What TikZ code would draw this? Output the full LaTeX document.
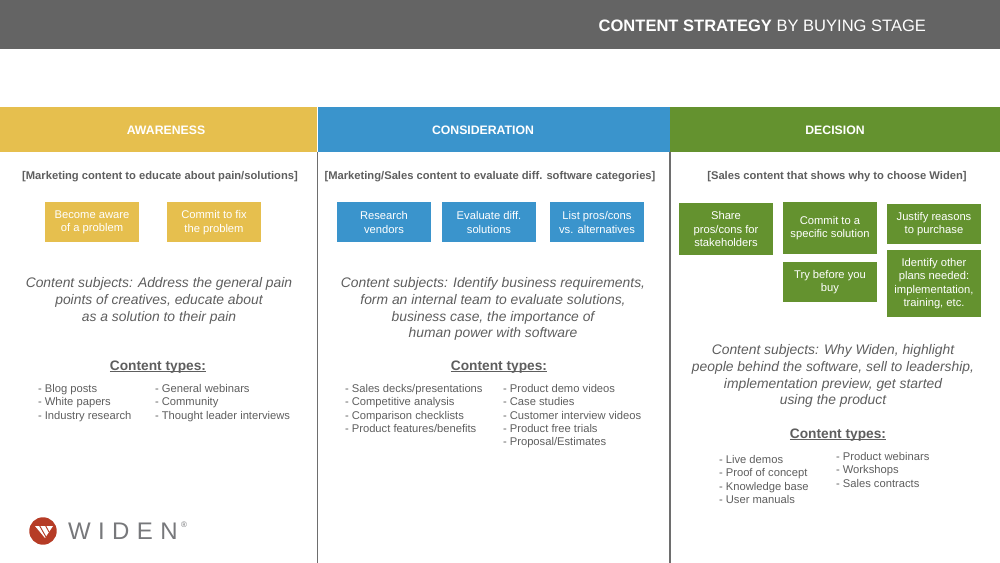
\documentclass[tikz,border=0pt]{standalone}
\usepackage{xcolor}
\usepackage{fontspec}
\setmainfont{Liberation Sans}
\newfontfamily\logofont[LetterSpace=31]{Liberation Sans}
\definecolor{bargray}{HTML}{646464}
\definecolor{awaregold}{HTML}{E6BF4E}
\definecolor{considerblue}{HTML}{3A94CC}
\definecolor{decidegreen}{HTML}{64922F}
\definecolor{bodygray}{HTML}{5E5E5E}
\definecolor{rulegray}{HTML}{6E6E6E}
\definecolor{widenred}{HTML}{B63C26}
\definecolor{logogray}{HTML}{77787B}
\newcommand{\headline}[1]{\setbox0\hbox{#1}\rlap{\rule[-1.4pt]{\wd0}{0.7pt}}\box0}
\usetikzlibrary{positioning}

\begin{document}
\begin{tikzpicture}[
  x=0.75pt, y=-0.75pt,
  plain/.style={inner sep=0pt, outer sep=0pt},
  band/.style={plain, minimum height=33.75pt, font=\fontsize{9.2}{11}\selectfont\bfseries, text=white},
  aim/.style={plain, font=\fontsize{8.4}{10}\selectfont\bfseries, text=bodygray},
  card/.style={plain, minimum width=70.5pt, minimum height=30pt, align=center, text=white,
               font=\fontsize{8.4}{10.1}\selectfont},
  subject/.style={plain, align=center, text=bodygray,
                  font=\fontsize{10.4}{12.7}\selectfont\itshape},
  typehead/.style={plain, text=bodygray, font=\fontsize{10.3}{12}\selectfont\bfseries},
  items/.style={plain, anchor=north west, align=left, text=bodygray,
                font=\fontsize{8.4}{10.1}\selectfont},
  divider/.style={rulegray, line width=0.8pt}
]
  \useasboundingbox (0,0) rectangle (1000,563);

  % top bar
  \node[plain, fill=bargray, minimum width=750pt, minimum height=36.75pt, anchor=north west] (bar) at (0,0) {};
  \node[plain, text=white, font=\fontsize{12.4}{14}\selectfont, anchor=east] (title) at (926,26)
    {\textbf{CONTENT STRATEGY} BY BUYING STAGE};

  % column heads
  \node[band, fill=awaregold, minimum width=238pt, anchor=north west] (aware) at (0,107) {};
  \node[band, fill=considerblue, minimum width=264pt, anchor=north west] (consider) at (318,107) {};
  \node[band, fill=decidegreen, minimum width=247.5pt, anchor=north west] (decide) at (670,107) {};
  \node[band] at (166,130) (awarelab) {AWARENESS};
  \node[band] at (483,130) (considerlab) {CONSIDERATION};
  \node[band] at (835,130) (decidelab) {DECISION};

  \coordinate (foot) at (0,563);
  \draw[divider] (aware.south east) -- (aware.south east |- foot);
  \draw[divider] (decide.south west) -- (decide.south west |- foot);

  \node[aim] (aim1) at (160,177) {[Marketing content to educate about pain/solutions]};
  \node[aim] (aim2) at (490,177) {[Marketing/Sales content to evaluate diff. software categories]};
  \node[aim] (aim3) at (837,177) {[Sales content that shows why to choose Widen]};

  % awareness
  \node[card, fill=awaregold] (a1) at (92,222.5) {Become aware\\of a problem};
  \node[card, fill=awaregold] (a2) at (214,222.5) {Commit to fix\\the problem};
  \node[subject] (asub) at (159,301) {Content subjects: Address the general pain\\points of creatives, educate about\\as a solution to their pain};
  \node[typehead] (ahead) at (158,367) {\headline{Content types:}};
  \node[items] (al1) at (38,384) {- Blog posts\\- White papers\\- Industry research};
  \node[items] (al2) at (155,384) {- General webinars\\- Community\\- Thought leader interviews};

  % consideration
  \node[card, fill=considerblue] (c1) at (384,222.5) {Research\\vendors};
  \node[card, fill=considerblue] (c2) at (489,222.5) {Evaluate diff.\\solutions};
  \node[card, fill=considerblue] (c3) at (597,222.5) {List pros/cons\\vs. alternatives};
  \node[subject] (csub) at (493,309) {Content subjects: Identify business requirements,\\form an internal team to evaluate solutions,\\business case, the importance of\\human power with software};
  \node[typehead] (chead) at (499,367) {\headline{Content types:}};
  \node[items] (cl1) at (345,384) {- Sales decks/presentations\\- Competitive analysis\\- Comparison checklists\\- Product features/benefits};
  \node[items] (cl2) at (503,384) {- Product demo videos\\- Case studies\\- Customer interview videos\\- Product free trials\\- Proposal/Estimates};

  % decision
  \node[card, fill=decidegreen, minimum height=39pt] (d1) at (726,229) {Share\\pros/cons for\\stakeholders};
  \node[card, fill=decidegreen, minimum height=39pt] (d2) at (830,228) {Commit to a\\specific solution};
  \node[card, fill=decidegreen, minimum height=30.5pt] (d3) at (934,224) {Justify reasons\\to purchase};
  \node[card, fill=decidegreen, minimum height=30.5pt] (d4) at (830,282) {Try before you\\buy};
  \node[card, fill=decidegreen, minimum height=50pt] (d5) at (934,283.5) {Identify other\\plans needed:\\implementation,\\training, etc.};
  \node[subject] (dsub) at (833,376) {Content subjects: Why Widen, highlight\\people behind the software, sell to leadership,\\implementation preview, get started\\using the product};
  \node[typehead] (dhead) at (838,435) {\headline{Content types:}};
  \node[items] (dl1) at (719,455) {- Live demos\\- Proof of concept\\- Knowledge base\\- User manuals};
  \node[items] (dl2) at (836,452) {- Product webinars\\- Workshops\\- Sales contracts};

  % logo
  \node[plain, circle, fill=widenred, minimum size=20.6pt] (mark) at (43,531) {};
  \fill[white] (35,526) -- (53,526) -- (45,538) -- cycle;
  \draw[widenred, line width=0.7pt] (39.5,525.5) -- (46,537);
  \draw[widenred, line width=0.7pt] (45.5,525.5) -- (49,532);
  \node[plain, anchor=west, text=logogray, font=\fontsize{18}{20}\selectfont\logofont] (logotext) at (68,531) {WIDEN};
  \node[plain, text=logogray, font=\fontsize{6}{7}\selectfont] (reg) at (184,525) {®};
\end{tikzpicture}
\end{document}
